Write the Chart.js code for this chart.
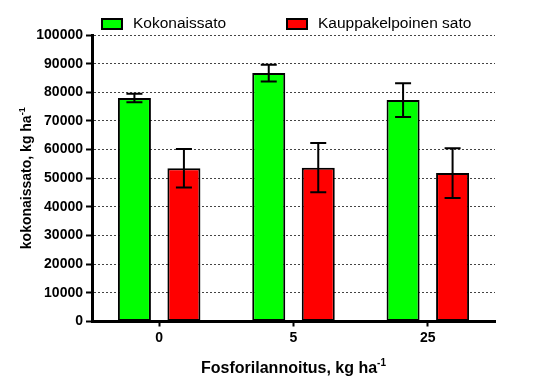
<!DOCTYPE html>
<html>
<head>
<meta charset="utf-8">
<script src="https://cdn.jsdelivr.net/npm/chart.js@4"></script>
<style>
  html, body { margin: 0; padding: 0; background: #fff; }
  #wrap { width: 540px; height: 390px; }
</style>
</head>
<body>
<div id="wrap"><canvas id="plot"></canvas></div>
<script>
const categories = ['0', '5', '25'];
const totalYield = [78000, 86700, 77300];
const totalErr = [1500, 2900, 5900];
const marketYield = [53500, 53700, 51800];
const marketErr = [6700, 8600, 8700];
const seriesNames = ['Kokonaissato', 'Kauppakelpoinen sato'];
const xTitle = 'Fosforilannoitus, kg ha';
const yTitle = 'kokonaissato, kg ha';
const unitSup = '-1';

const FONT = "'Liberation Sans', Arial, sans-serif";

// error bars, drawn through the y scale
const errorBars = {
    id: 'errorBars',
    afterDatasetsDraw(chart) {
        const ctx = chart.ctx;
        const y = chart.scales.y;
        chart.data.datasets.forEach(function(ds, i) {
            const meta = chart.getDatasetMeta(i);
            meta.data.forEach(function(bar, j) {
                const v = ds.data[j], e = ds.errors[j];
                const top = y.getPixelForValue(v + e);
                const bot = y.getPixelForValue(v - e);
                ctx.save();
                ctx.strokeStyle = '#000';
                ctx.lineWidth = 2;
                ctx.beginPath();
                ctx.moveTo(bar.x, top); ctx.lineTo(bar.x, bot);
                ctx.moveTo(bar.x - 8, top); ctx.lineTo(bar.x + 8, top);
                ctx.moveTo(bar.x - 8, bot); ctx.lineTo(bar.x + 8, bot);
                ctx.stroke();
                ctx.restore();
            });
        });
    }
};

// legend + axis titles with superscript
const decorations = {
    id: 'decorations',
    afterDraw(chart) {
        const ctx = chart.ctx;
        const area = chart.chartArea;
        ctx.save();
        // legend
        const legendX = [102, 287];
        ctx.font = '15.5px ' + FONT;
        ctx.textBaseline = 'middle';
        chart.data.datasets.forEach(function(ds, i) {
            const x = legendX[i];
            ctx.fillStyle = ds.backgroundColor;
            ctx.fillRect(x, 19, 20, 10);
            ctx.strokeStyle = '#000';
            ctx.lineWidth = 2;
            ctx.strokeRect(x, 19, 20, 10);
            ctx.fillStyle = '#000';
            ctx.fillText(ds.label, x + 31, 24);
        });

        // x title
        ctx.textBaseline = 'alphabetic';
        ctx.font = 'bold 16px ' + FONT;
        const wx = ctx.measureText(xTitle).width;
        ctx.font = 'bold 10px ' + FONT;
        const sx = ctx.measureText(unitSup).width;
        let startX = (area.left + area.right) / 2 - (wx + sx) / 2;
        ctx.font = 'bold 16px ' + FONT;
        ctx.fillText(xTitle, startX, 373);
        ctx.font = 'bold 10px ' + FONT;
        ctx.fillText(unitSup, startX + wx, 366);

        // y title
        ctx.translate(31, (area.top + area.bottom) / 2);
        ctx.rotate(-Math.PI / 2);
        ctx.font = 'bold 14px ' + FONT;
        const wy = ctx.measureText(yTitle).width;
        ctx.font = 'bold 9px ' + FONT;
        const sy = ctx.measureText(unitSup).width;
        const startY = -(wy + sy) / 2;
        ctx.font = 'bold 14px ' + FONT;
        ctx.fillText(yTitle, startY, 0);
        ctx.font = 'bold 9px ' + FONT;
        ctx.fillText(unitSup, startY + wy, -6);
        ctx.restore();
    }
};

new Chart(document.getElementById('plot').getContext('2d'), {
    type: 'bar',
    data: {
        labels: categories,
        datasets: [{
            label: seriesNames[0],
            data: totalYield,
            errors: totalErr,
            backgroundColor: '#00ff00',
            borderColor: '#000',
            borderWidth: 2,
            borderSkipped: false
        }, {
            label: seriesNames[1],
            data: marketYield,
            errors: marketErr,
            backgroundColor: '#ff0000',
            borderColor: '#000',
            borderWidth: 2,
            borderSkipped: false
        }]
    },
    options: {
        responsive: true,
        maintainAspectRatio: false,
        animation: false,
        categoryPercentage: 0.737,
        barPercentage: 0.667,
        layout: { padding: { top: 35, right: 45, left: 0, bottom: 0 } },
        plugins: {
            legend: { display: false },
            tooltip: { enabled: false }
        },
        scales: {
            x: {
                grid: {
                    offset: false,
                    drawOnChartArea: false,
                    tickLength: 5,
                    tickColor: '#000',
                    tickWidth: 2
                },
                border: { display: true, color: '#000', width: 3 },
                ticks: {
                    color: '#000',
                    padding: 3,
                    font: { family: FONT, size: 14, weight: 'bold' }
                },
                afterFit: function(scale) { scale.height = 68.5; }
            },
            y: {
                min: 0,
                max: 100000,
                grid: {
                    color: '#444',
                    lineWidth: 1,
                    tickLength: 6,
                    tickColor: '#000',
                    tickWidth: 2
                },
                border: { display: true, color: '#000', width: 3, dash: [2, 2] },
                ticks: {
                    stepSize: 10000,
                    color: '#000',
                    padding: 3,
                    font: { family: FONT, size: 14, weight: 'bold' },
                    callback: function(v) { return String(v); }
                },
                afterFit: function(scale) { scale.width = 92; }
            }
        }
    },
    plugins: [errorBars, decorations]
});
</script>
</body>
</html>
